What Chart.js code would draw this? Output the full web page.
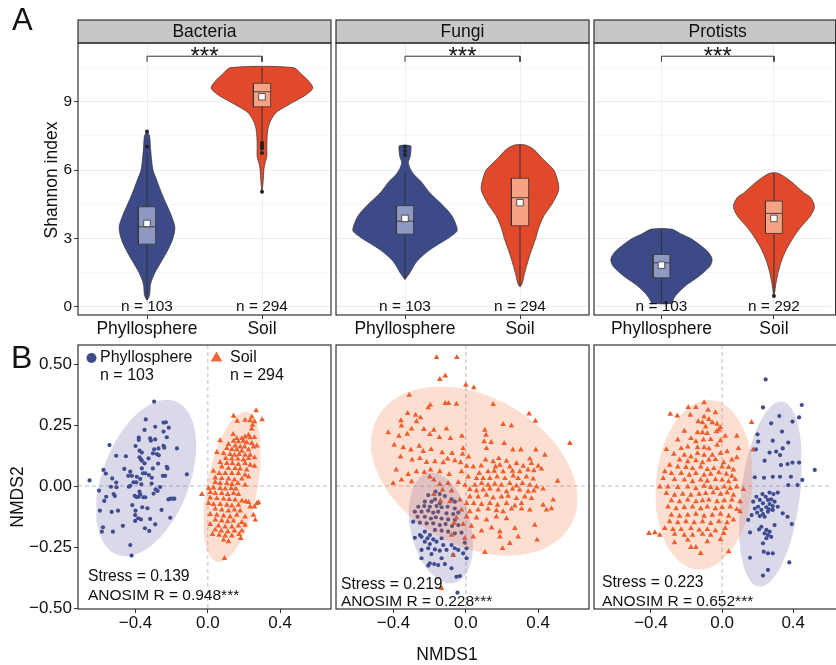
<!DOCTYPE html>
<html>
<head>
<meta charset="utf-8">
<script src="https://cdn.jsdelivr.net/npm/chart.js@4.4.1/dist/chart.umd.min.js"></script>
<style>
  body { margin: 0; background: #fff; }
  #wrap { position: relative; width: 836px; height: 665px; overflow: hidden; background: #fff; }
  #wrap canvas { position: absolute; left: 0; top: 0; }
</style>
</head>
<body>
<div id="wrap">
  <canvas id="a1" width="836" height="665"></canvas>
  <canvas id="a2" width="836" height="665"></canvas>
  <canvas id="a3" width="836" height="665"></canvas>
  <canvas id="b1" width="836" height="665"></canvas>
  <canvas id="b2" width="836" height="665"></canvas>
  <canvas id="b3" width="836" height="665"></canvas>
</div>
<script>
// ---- data ----
const groups = ["Phyllosphere", "Soil"];
const kingdoms = ["Bacteria", "Fungi", "Protists"];
const sampleN = [[103, 294], [103, 294], [103, 292]];
const shannonTicks = [0, 3, 6, 9];
const shannonMinor = [1.5, 4.5, 7.5, 10.5];
const nmdsXTicks = [-0.4, 0, 0.4];
const nmdsYTicks = [-0.5, -0.25, 0, 0.25, 0.5];
const stress = [0.139, 0.219, 0.223];
const anosimR = [0.948, 0.228, 0.652];

// violin outlines: Shannon levels and half widths (category units)
const bacPhylloY = [0.29, 0.5, 1, 1.5, 2, 2.5, 3, 3.5, 4, 4.5, 5, 5.5, 6, 6.5, 7, 7.5, 7.69];
const bacPhylloW = [0, 0.022, 0.031, 0.069, 0.126, 0.182, 0.225, 0.242, 0.212, 0.169, 0.126, 0.089, 0.052, 0.039, 0.030, 0.022, 0];
const bacSoilY = [5.0, 5.5, 6.0, 6.3, 6.6, 7.0, 7.5, 8.0, 8.5, 8.8, 9.0, 9.3, 9.6, 9.9, 10.2, 10.5];
const bacSoilW = [0, 0.010, 0.016, 0.026, 0.042, 0.042, 0.045, 0.061, 0.117, 0.208, 0.277, 0.381, 0.442, 0.407, 0.346, 0.27];
const funPhylloY = [1.2, 1.5, 2, 2.5, 3, 3.3, 3.5, 4, 4.5, 5, 5.5, 5.86, 6.3, 6.6, 6.9, 7.07];
const funPhylloW = [0, 0.043, 0.104, 0.216, 0.372, 0.45, 0.45, 0.407, 0.320, 0.216, 0.139, 0.069, 0.029, 0.045, 0.052, 0.048];
const funSoilY = [0.88, 1.0, 1.5, 2, 2.5, 3, 3.5, 4, 4.5, 5, 5.2, 5.5, 6, 6.5, 6.9, 7.1];
const funSoilW = [0, 0.017, 0.041, 0.069, 0.101, 0.136, 0.165, 0.208, 0.277, 0.329, 0.338, 0.329, 0.294, 0.197, 0.121, 0.048];
const proPhylloY = [0.15, 0.4, 0.7, 1.0, 1.2, 1.5, 1.8, 2.1, 2.4, 2.7, 3.0, 3.2, 3.41];
const proPhylloW = [0.087, 0.113, 0.165, 0.234, 0.294, 0.372, 0.433, 0.450, 0.416, 0.346, 0.260, 0.173, 0.087];
const proSoilY = [0.47, 0.6, 1, 1.5, 2, 2.5, 3, 3.5, 4, 4.4, 4.8, 5, 5.5, 5.86];
const proSoilW = [0, 0.006, 0.017, 0.037, 0.066, 0.109, 0.167, 0.239, 0.326, 0.36, 0.326, 0.268, 0.152, 0.039];

// box stats: lower whisker, Q1, median, Q3, upper whisker, mean
const bacPhylloBox = [0.3, 2.75, 3.51, 4.39, 6.8, 3.66];
const bacSoilBox = [7.3, 8.78, 9.44, 9.81, 10.5, 9.22];
const funPhylloBox = [1.2, 3.19, 3.76, 4.44, 5.93, 3.88];
const funSoilBox = [0.88, 3.56, 4.79, 5.64, 7.1, 4.57];
const proPhylloBox = [0.15, 1.27, 1.93, 2.30, 3.41, 1.83];
const proSoilBox = [0.6, 3.22, 4.10, 4.64, 5.86, 3.88];
const bacPhylloOut = [7.03, 7.69];
const bacSoilOut = [7.2, 7.1, 7.0, 6.95, 6.75, 5.05];
const funPhylloOut = [6.66, 6.84, 7.03];
const funSoilOut = [];
const proPhylloOut = [];
const proSoilOut = [0.47];
const bracketY = [10.76, 11.0];

// NMDS scores [NMDS1, NMDS2]
const bacPhylloPts = [[-0.297,0.346],[-0.343,0.273],[-0.245,0.260],[-0.232,0.261],[-0.291,0.243],[-0.216,0.239],[-0.350,0.230],[-0.245,0.223],[-0.382,0.198],[-0.382,0.189],[-0.319,0.195],[-0.315,0.186],[-0.291,0.191],[-0.227,0.200],[-0.544,0.168],[-0.400,0.164],[-0.245,0.165],[-0.241,0.157],[-0.273,0.154],[-0.297,0.150],[-0.171,0.154],[-0.378,0.145],[-0.365,0.137],[-0.304,0.134],[-0.282,0.131],[-0.271,0.126],[-0.507,0.124],[-0.453,0.122],[-0.378,0.118],[-0.370,0.109],[-0.365,0.104],[-0.328,0.113],[-0.350,0.093],[-0.275,0.092],[-0.227,0.079],[-0.223,0.072],[-0.304,0.072],[-0.577,0.066],[-0.462,0.070],[-0.429,0.059],[-0.365,0.072],[-0.564,0.051],[-0.440,0.042],[-0.420,0.042],[-0.359,0.052],[-0.346,0.052],[-0.326,0.045],[-0.310,0.034],[-0.249,0.042],[-0.236,0.042],[-0.116,0.048],[-0.529,0.031],[-0.393,0.038],[-0.374,0.029],[-0.654,0.023],[-0.507,0.014],[-0.411,0.015],[-0.396,0.015],[-0.429,0.001],[-0.368,0.007],[-0.311,0.010],[-0.536,-0.003],[-0.505,-0.005],[-0.437,-0.003],[-0.264,-0.004],[-0.602,-0.019],[-0.289,-0.014],[-0.278,-0.020],[-0.300,-0.031],[-0.521,-0.033],[-0.514,-0.041],[-0.562,-0.044],[-0.378,-0.023],[-0.374,-0.034],[-0.382,-0.044],[-0.404,-0.040],[-0.393,-0.046],[-0.356,-0.046],[-0.346,-0.046],[-0.573,-0.061],[-0.218,-0.055],[-0.208,-0.052],[-0.194,-0.052],[-0.185,-0.052],[-0.418,-0.078],[-0.363,-0.087],[-0.334,-0.091],[-0.597,-0.101],[-0.532,-0.106],[-0.497,-0.101],[-0.400,-0.101],[-0.256,-0.098],[-0.402,-0.119],[-0.385,-0.132],[-0.370,-0.137],[-0.319,-0.135],[-0.208,-0.130],[-0.402,-0.143],[-0.291,-0.157],[-0.470,-0.163],[-0.580,-0.169],[-0.586,-0.187],[-0.525,-0.187],[-0.348,-0.173],[-0.324,-0.184],[-0.429,-0.242],[-0.422,-0.285]];
const bacSoilPts = [[0.267,0.309],[0.142,0.287],[0.243,0.284],[0.206,0.270],[0.162,0.266],[0.234,0.268],[0.300,0.272],[0.258,0.264],[0.247,0.250],[0.243,0.234],[0.140,0.212],[0.225,0.209],[0.160,0.195],[0.188,0.195],[0.206,0.202],[0.234,0.198],[0.258,0.199],[0.068,0.186],[0.142,0.184],[0.169,0.182],[0.197,0.184],[0.215,0.178],[0.243,0.175],[0.271,0.165],[0.114,0.171],[0.151,0.165],[0.179,0.161],[0.203,0.161],[0.252,0.161],[0.105,0.154],[0.133,0.150],[0.160,0.148],[0.188,0.143],[0.225,0.148],[0.050,0.138],[0.087,0.134],[0.123,0.130],[0.147,0.127],[0.173,0.130],[0.206,0.127],[0.234,0.127],[0.099,0.113],[0.133,0.111],[0.166,0.111],[0.197,0.107],[0.225,0.113],[0.258,0.116],[0.068,0.097],[0.105,0.093],[0.136,0.093],[0.169,0.089],[0.206,0.093],[0.234,0.086],[0.258,0.082],[0.077,0.079],[0.114,0.072],[0.151,0.072],[0.179,0.070],[0.215,0.066],[0.031,0.061],[0.063,0.052],[0.096,0.052],[0.133,0.052],[0.169,0.052],[0.206,0.045],[0.225,0.038],[0.041,0.034],[0.077,0.031],[0.114,0.029],[0.147,0.025],[0.188,0.029],[0.041,0.015],[0.068,0.011],[0.105,0.011],[0.133,0.007],[0.166,0.011],[0.206,0.004],[0.004,-0.010],[0.031,-0.007],[0.068,-0.010],[0.096,-0.012],[0.129,-0.010],[0.155,-0.012],[-0.033,-0.034],[0.013,-0.026],[0.041,-0.030],[0.077,-0.030],[0.110,-0.034],[0.142,-0.030],[0.169,-0.034],[0.013,-0.048],[0.050,-0.051],[0.087,-0.053],[0.118,-0.055],[0.151,-0.057],[0.188,-0.061],[0.210,-0.064],[0.225,-0.067],[0.004,-0.071],[0.031,-0.075],[0.068,-0.075],[0.105,-0.078],[0.133,-0.081],[0.169,-0.078],[0.271,-0.071],[0.280,-0.068],[0.258,-0.085],[0.041,-0.094],[0.077,-0.098],[0.114,-0.102],[0.147,-0.098],[0.179,-0.102],[0.234,-0.085],[0.013,-0.116],[0.050,-0.119],[0.087,-0.122],[0.123,-0.126],[0.160,-0.119],[0.206,-0.126],[0.252,-0.119],[0.041,-0.139],[0.077,-0.143],[0.110,-0.146],[0.142,-0.143],[0.188,-0.149],[0.262,-0.139],[0.013,-0.157],[0.059,-0.163],[0.096,-0.167],[0.133,-0.167],[0.169,-0.163],[0.206,-0.160],[0.041,-0.180],[0.074,-0.184],[0.110,-0.187],[0.147,-0.184],[0.188,-0.184],[0.026,-0.198],[0.063,-0.201],[0.096,-0.204],[0.133,-0.204],[0.173,-0.198],[0.087,-0.221],[0.114,-0.228],[0.182,-0.214],[0.092,-0.296]];
const funPhylloPts = [[-0.168,-0.023],[-0.144,-0.033],[-0.208,-0.037],[-0.116,-0.041],[-0.171,-0.055],[-0.079,-0.055],[-0.227,-0.064],[-0.190,-0.064],[-0.144,-0.071],[-0.061,-0.064],[-0.263,-0.085],[-0.230,-0.082],[-0.199,-0.085],[-0.162,-0.082],[-0.134,-0.087],[-0.101,-0.085],[-0.061,-0.092],[-0.282,-0.105],[-0.245,-0.105],[-0.208,-0.101],[-0.180,-0.109],[-0.153,-0.105],[-0.107,-0.112],[-0.070,-0.115],[-0.042,-0.109],[-0.267,-0.126],[-0.227,-0.126],[-0.193,-0.133],[-0.166,-0.128],[-0.134,-0.133],[-0.098,-0.137],[-0.061,-0.139],[-0.291,-0.146],[-0.254,-0.150],[-0.217,-0.153],[-0.180,-0.153],[-0.144,-0.160],[-0.112,-0.156],[-0.076,-0.164],[-0.042,-0.160],[-0.171,-0.180],[-0.134,-0.183],[-0.098,-0.187],[-0.061,-0.194],[-0.024,-0.191],[-0.227,-0.187],[-0.254,-0.201],[-0.199,-0.201],[-0.282,-0.212],[-0.245,-0.208],[-0.212,-0.214],[-0.180,-0.219],[-0.134,-0.214],[-0.162,-0.228],[-0.199,-0.238],[-0.227,-0.228],[-0.125,-0.242],[-0.079,-0.242],[-0.061,-0.255],[-0.042,-0.262],[-0.006,-0.232],[0.004,-0.255],[-0.208,-0.255],[-0.171,-0.260],[-0.144,-0.265],[-0.107,-0.262],[-0.245,-0.262],[-0.015,-0.276],[-0.070,-0.283],[-0.190,-0.279],[-0.245,-0.296],[-0.134,-0.296],[0.004,-0.296],[-0.199,-0.317],[-0.175,-0.320],[-0.153,-0.324],[-0.079,-0.337],[-0.116,-0.320],[-0.052,-0.372],[-0.033,-0.369],[-0.046,-0.437],[-0.208,-0.326]];
const funSoilPts = [[-0.162,0.527],[-0.050,0.527],[-0.144,0.437],[-0.114,0.452],[0.000,0.414],[0.044,0.403],[-0.313,0.373],[-0.114,0.339],[-0.096,0.339],[-0.052,0.336],[-0.197,0.332],[-0.208,0.321],[0.151,0.335],[-0.322,0.298],[-0.278,0.291],[-0.251,0.280],[-0.359,0.268],[-0.356,0.247],[-0.273,0.264],[0.350,0.296],[0.385,0.266],[-0.300,0.234],[-0.232,0.232],[-0.177,0.229],[-0.107,0.234],[-0.429,0.219],[-0.370,0.205],[-0.324,0.213],[-0.199,0.212],[-0.146,0.199],[-0.085,0.195],[-0.022,0.205],[0.112,0.209],[0.212,0.175],[0.575,0.175],[0.252,0.247],[0.206,0.253],[0.105,0.229],[-0.396,0.168],[-0.346,0.158],[-0.304,0.148],[-0.258,0.164],[-0.236,0.142],[-0.192,0.150],[-0.131,0.137],[-0.076,0.134],[-0.015,0.154],[-0.018,0.131],[0.015,0.120],[0.101,0.182],[0.114,0.154],[0.140,0.179],[0.260,0.148],[0.304,0.148],[0.387,0.148],[0.437,0.127],[0.354,0.111],[0.182,0.113],[0.225,0.102],[0.151,0.100],[0.109,0.107],[-0.361,0.120],[-0.297,0.107],[-0.254,0.113],[-0.217,0.097],[-0.171,0.100],[-0.125,0.096],[-0.101,0.111],[-0.061,0.104],[-0.029,0.096],[0.041,0.079],[0.085,0.083],[0.164,0.079],[0.188,0.086],[0.243,0.079],[0.280,0.093],[0.317,0.082],[0.363,0.093],[0.400,0.082],[0.004,0.082],[-0.385,0.066],[-0.319,0.048],[-0.273,0.059],[-0.230,0.056],[-0.195,0.066],[-0.144,0.059],[-0.092,0.048],[-0.024,0.059],[0.123,0.059],[0.157,0.061],[0.206,0.059],[0.258,0.061],[0.298,0.059],[0.344,0.066],[0.376,0.063],[0.418,0.070],[0.074,0.052],[-0.356,0.025],[-0.300,0.018],[-0.402,0.011],[-0.199,0.038],[-0.177,0.025],[0.013,0.038],[0.059,0.031],[0.096,0.031],[0.133,0.031],[0.173,0.038],[0.216,0.031],[0.262,0.042],[0.289,0.031],[0.335,0.038],[0.372,0.029],[0.507,0.020],[-0.144,0.007],[-0.098,0.011],[-0.042,0.015],[-0.004,0.004],[0.050,0.004],[0.087,0.011],[0.123,0.004],[0.160,0.008],[0.197,0.004],[0.243,0.011],[0.280,0.001],[0.313,0.011],[0.354,0.004],[0.391,-0.003],[-0.129,-0.016],[-0.079,-0.020],[0.022,-0.014],[0.059,-0.020],[0.096,-0.016],[0.133,-0.012],[0.179,-0.016],[0.225,-0.023],[0.258,-0.012],[0.298,-0.016],[0.344,-0.023],[0.427,-0.012],[0.376,-0.020],[-0.177,-0.034],[0.022,-0.044],[0.068,-0.044],[0.114,-0.037],[0.151,-0.048],[0.197,-0.044],[0.234,-0.041],[0.280,-0.051],[0.326,-0.044],[0.363,-0.051],[0.483,-0.057],[-0.140,-0.061],[-0.088,-0.064],[-0.033,-0.057],[0.004,-0.071],[0.044,-0.071],[0.087,-0.075],[0.133,-0.071],[0.175,-0.078],[0.225,-0.071],[0.271,-0.081],[0.308,-0.071],[-0.024,-0.098],[0.022,-0.105],[0.068,-0.098],[0.123,-0.094],[0.169,-0.101],[0.206,-0.105],[0.252,-0.094],[0.308,-0.094],[0.354,-0.098],[-0.052,-0.130],[0.004,-0.126],[0.059,-0.130],[0.114,-0.139],[0.169,-0.126],[0.225,-0.133],[0.427,-0.078],[0.446,-0.098],[0.473,-0.092],[-0.066,-0.153],[-0.015,-0.157],[0.031,-0.164],[0.087,-0.184],[0.142,-0.171],[0.188,-0.187],[0.271,-0.173],[0.381,-0.160],[-0.006,-0.214],[-0.079,-0.201],[0.041,-0.208],[0.188,-0.208],[0.289,-0.208],[0.394,-0.221],[0.243,-0.235],[0.203,-0.255],[0.105,-0.272],[-0.070,-0.283],[-0.134,-0.419]];
const proPhylloPts = [[0.245,0.437],[0.230,0.322],[0.448,0.332],[0.322,0.287],[0.433,0.281],[0.396,0.264],[0.276,0.257],[0.337,0.223],[0.199,0.212],[0.285,0.186],[0.372,0.178],[0.203,0.182],[0.341,0.154],[0.304,0.141],[0.267,0.137],[0.239,0.104],[0.326,0.127],[0.190,0.150],[0.396,0.096],[0.433,0.096],[0.331,0.086],[0.368,0.090],[0.521,0.066],[0.236,0.034],[0.285,0.038],[0.326,0.038],[0.387,0.038],[0.184,0.036],[0.451,0.025],[0.424,0.004],[0.372,0.004],[0.267,-0.027],[0.289,-0.033],[0.313,-0.027],[0.227,-0.033],[0.245,-0.044],[0.193,-0.044],[0.175,-0.064],[0.212,-0.057],[0.258,-0.057],[0.276,-0.055],[0.295,-0.064],[0.230,-0.071],[0.267,-0.074],[0.285,-0.082],[0.203,-0.085],[0.249,-0.087],[0.184,-0.092],[0.221,-0.098],[0.263,-0.096],[0.197,-0.109],[0.230,-0.115],[0.258,-0.105],[0.285,-0.098],[0.166,-0.119],[0.212,-0.123],[0.239,-0.126],[0.147,-0.139],[0.341,-0.112],[0.368,-0.126],[0.392,-0.156],[0.221,-0.167],[0.249,-0.180],[0.267,-0.187],[0.239,-0.194],[0.258,-0.201],[0.276,-0.208],[0.157,-0.190],[0.208,-0.178],[0.249,-0.214],[0.230,-0.235],[0.234,-0.269],[0.258,-0.276],[0.285,-0.276],[0.157,-0.294],[0.378,-0.313],[0.258,-0.344],[0.230,-0.367],[0.295,-0.160],[0.313,-0.085]];
const proSoilPts = [[-0.101,0.342],[-0.190,0.322],[-0.291,0.295],[-0.252,0.288],[-0.147,0.322],[-0.079,0.311],[-0.037,0.301],[-0.179,0.291],[-0.101,0.284],[-0.074,0.273],[-0.134,0.264],[-0.110,0.260],[-0.055,0.260],[-0.028,0.254],[-0.092,0.243],[-0.009,0.240],[-0.212,0.225],[-0.138,0.219],[-0.110,0.219],[-0.083,0.216],[-0.031,0.223],[-0.018,0.230],[0.083,0.205],[0.018,0.205],[-0.175,0.195],[-0.105,0.189],[-0.064,0.191],[-0.249,0.189],[-0.147,0.182],[-0.009,0.186],[-0.313,0.150],[-0.230,0.154],[-0.193,0.161],[-0.138,0.158],[-0.101,0.158],[-0.074,0.153],[-0.028,0.168],[0.092,0.154],[0.175,0.148],[0.166,0.261],[0.083,0.117],[-0.271,0.131],[-0.212,0.127],[-0.175,0.120],[-0.138,0.134],[-0.101,0.127],[-0.055,0.127],[-0.009,0.134],[0.028,0.141],[-0.239,0.107],[-0.193,0.100],[-0.147,0.104],[-0.110,0.096],[-0.074,0.107],[-0.037,0.109],[0.009,0.096],[0.055,0.107],[-0.295,0.086],[-0.249,0.079],[-0.203,0.077],[-0.166,0.072],[-0.120,0.079],[-0.083,0.068],[-0.046,0.072],[0.000,0.079],[0.037,0.077],[0.064,0.066],[-0.322,0.059],[-0.285,0.052],[-0.230,0.052],[-0.184,0.045],[-0.147,0.052],[-0.101,0.045],[-0.064,0.049],[-0.018,0.055],[0.024,0.049],[0.055,0.041],[-0.331,0.031],[-0.267,0.027],[-0.212,0.025],[-0.166,0.018],[-0.120,0.025],[-0.083,0.020],[-0.037,0.027],[0.000,0.025],[0.037,0.018],[0.074,0.027],[-0.350,-0.003],[-0.304,-0.003],[-0.249,-0.005],[-0.193,-0.003],[-0.147,-0.010],[-0.101,0.000],[-0.064,-0.005],[-0.028,-0.010],[0.013,-0.003],[0.046,-0.010],[0.083,-0.003],[0.120,-0.014],[-0.313,-0.030],[-0.267,-0.037],[-0.221,-0.033],[-0.175,-0.037],[-0.129,-0.033],[-0.092,-0.030],[-0.050,-0.027],[-0.009,-0.033],[0.028,-0.027],[0.064,-0.037],[-0.285,-0.060],[-0.239,-0.064],[-0.193,-0.057],[-0.147,-0.064],[-0.110,-0.060],[-0.074,-0.057],[-0.028,-0.064],[0.013,-0.060],[0.055,-0.057],[0.101,-0.064],[-0.304,-0.085],[-0.258,-0.092],[-0.212,-0.087],[-0.166,-0.085],[-0.120,-0.092],[-0.083,-0.085],[-0.037,-0.092],[0.000,-0.087],[0.046,-0.085],[0.083,-0.096],[0.101,-0.105],[-0.285,-0.119],[-0.239,-0.123],[-0.193,-0.119],[-0.147,-0.115],[-0.101,-0.123],[-0.055,-0.119],[-0.009,-0.115],[0.037,-0.123],[-0.295,-0.146],[-0.249,-0.150],[-0.203,-0.146],[-0.157,-0.150],[-0.110,-0.146],[-0.064,-0.153],[-0.018,-0.146],[0.028,-0.150],[0.064,-0.139],[-0.322,-0.173],[-0.276,-0.178],[-0.230,-0.178],[-0.175,-0.173],[-0.129,-0.180],[-0.083,-0.178],[-0.037,-0.183],[0.018,-0.173],[-0.411,-0.194],[-0.378,-0.191],[-0.350,-0.201],[-0.267,-0.197],[-0.212,-0.201],[-0.166,-0.201],[-0.110,-0.197],[-0.064,-0.201],[0.009,-0.194],[-0.193,-0.221],[-0.083,-0.228],[-0.009,-0.219],[-0.147,-0.251],[-0.175,-0.251],[-0.120,-0.276],[0.037,-0.269],[-0.267,-0.232]];

// 95% ellipses: centre, first and second half axis (NMDS units)
const bacPhylloEll = [-0.341, 0.033, 0.162, 0.314, 0.224, -0.064];
const bacSoilEll = [0.134, -0.004, 0.081, 0.307, 0.137, -0.020];
const funPhylloEll = [-0.138, -0.172, -0.073, 0.225, 0.162, 0.029];
const funSoilEll = [0.046, 0.061, 0.534, -0.222, -0.201, -0.266];
const proPhylloEll = [0.272, -0.033, 0.066, 0.379, 0.164, -0.016];
const proSoilEll = [-0.101, 0.005, 0.041, 0.347, 0.270, -0.018];

// ---- style ----
const FONT = '"Liberation Sans", Arial, Helvetica, sans-serif';
const NAVY = "#3c4b87";
const RED = "#e2492b";
const NAVY_BOX = "#8e98c1";
const RED_BOX = "#f8a284";
const PT_NAVY = "#3d4b8c";
const PT_RED = "#ef5a2b";
const INK = "#111111";

Chart.defaults.font.family = FONT;
Chart.defaults.color = INK;

const deco = {
  id: "deco",
  beforeDatasetsDraw(chart, args, opts) {
    if (!opts.zeroLines) return;
    const { ctx, chartArea: a, scales } = chart;
    const x0 = scales.x.getPixelForValue(0);
    const y0 = scales.y.getPixelForValue(0);
    ctx.save();
    ctx.strokeStyle = "#bdbdbd";
    ctx.lineWidth = 1;
    ctx.setLineDash([4, 3]);
    ctx.beginPath();
    ctx.moveTo(x0, a.top); ctx.lineTo(x0, a.bottom);
    ctx.moveTo(a.left, y0); ctx.lineTo(a.right, y0);
    ctx.stroke();
    ctx.restore();
  },
  afterDatasetsDraw(chart, args, opts) {
    const { ctx, chartArea: a, scales } = chart;
    const extra = opts.openRight ? 5 : 0;
    ctx.save();
    ctx.strokeStyle = "#333";
    ctx.lineWidth = 1.2;
    if (opts.strip) {
      const h = 23;
      ctx.fillStyle = "#c9c6c6";
      ctx.fillRect(a.left, a.top - h, a.right - a.left + extra, h);
      ctx.strokeRect(a.left, a.top - h, a.right - a.left + extra, h);
      ctx.fillStyle = INK;
      ctx.font = "17.5px " + FONT;
      ctx.textAlign = "center";
      ctx.textBaseline = "middle";
      ctx.fillText(opts.strip, scales.x.getPixelForValue(1.5), a.top - h / 2 + 1);
    }
    // panel border
    ctx.strokeRect(a.left, a.top, a.right - a.left + extra, a.bottom - a.top);
    // texts placed on data values
    (opts.dataText || []).forEach(t => {
      ctx.fillStyle = INK;
      ctx.font = t.size + "px " + FONT;
      ctx.textAlign = t.align || "center";
      ctx.textBaseline = t.base || "middle";
      ctx.fillText(t.text, scales.x.getPixelForValue(t.x), scales.y.getPixelForValue(t.y));
    });
    // texts placed on the page
    (opts.pageText || []).forEach(t => {
      ctx.save();
      ctx.fillStyle = INK;
      ctx.font = t.size + "px " + FONT;
      ctx.textAlign = t.align || "center";
      ctx.textBaseline = "middle";
      ctx.translate(t.x, t.y);
      if (t.rot) ctx.rotate(-Math.PI / 2);
      ctx.fillText(t.text, 0, 0);
      ctx.restore();
    });
    if (opts.legend) {
      ctx.fillStyle = PT_NAVY;
      ctx.beginPath(); ctx.arc(91.5, 358, 5, 0, Math.PI * 2); ctx.fill();
      ctx.fillStyle = "#f0643a";
      ctx.beginPath();
      ctx.moveTo(216.5, 351.5); ctx.lineTo(222.3, 361.5); ctx.lineTo(210.7, 361.5);
      ctx.closePath(); ctx.fill();
    }
    ctx.restore();
  }
};

function violinPolygon(c, ys, ws) {
  const left = ys.map((y, i) => ({ x: c - ws[i], y }));
  const right = ys.map((y, i) => ({ x: c + ws[i], y })).reverse();
  const pts = left.concat(right);
  pts.push(pts[0]);
  return pts;
}

function violinSets(vy, vw, boxes, outs) {
  const sets = [];
  const bw = 0.075;
  [0, 1].forEach(g => {
    const c = g + 1;
    const b = boxes[g];
    sets.push({ data: violinPolygon(c, vy[g], vw[g]), showLine: true, fill: "shape",
      backgroundColor: g ? RED : NAVY, borderColor: "#333", borderWidth: 0.7, tension: 0.3, pointRadius: 0, order: 10 });
    sets.push({ data: [{ x: c, y: b[0] }, { x: c, y: b[4] }], showLine: true,
      borderColor: "#333", borderWidth: 1, pointRadius: 0, order: 9 });
    sets.push({ data: [{ x: c - bw, y: b[1] }, { x: c + bw, y: b[1] }, { x: c + bw, y: b[3] }, { x: c - bw, y: b[3] }, { x: c - bw, y: b[1] }],
      showLine: true, fill: "shape", backgroundColor: g ? RED_BOX : NAVY_BOX, borderColor: "#333", borderWidth: 0.8, pointRadius: 0, order: 8 });
    sets.push({ data: [{ x: c - bw, y: b[2] }, { x: c + bw, y: b[2] }], showLine: true,
      borderColor: "#333", borderWidth: 0.9, pointRadius: 0, order: 7 });
    sets.push({ data: outs[g].map(y => ({ x: c, y })), pointRadius: 2, backgroundColor: "#222", borderWidth: 0, order: 6 });
    sets.push({ data: [{ x: c, y: b[5] }], pointStyle: "rect", pointRadius: 4.6,
      backgroundColor: "#fff", borderColor: "#333", borderWidth: 0.8, order: 5 });
  });
  sets.push({ data: [{ x: 1, y: bracketY[0] }, { x: 1, y: bracketY[1] }, { x: 2, y: bracketY[1] }, { x: 2, y: bracketY[0] }],
    showLine: true, borderColor: "#333", borderWidth: 1, pointRadius: 0, order: 4 });
  return sets;
}

function ellipsePoints(e) {
  const pts = [];
  for (let i = 0; i <= 90; i++) {
    const t = (i / 90) * Math.PI * 2;
    pts.push({ x: e[0] + Math.cos(t) * e[2] + Math.sin(t) * e[4], y: e[1] + Math.cos(t) * e[3] + Math.sin(t) * e[5] });
  }
  return pts;
}

function nmdsSets(phyllo, soil, ellP, ellS) {
  return [
    { data: ellipsePoints(ellS), showLine: true, fill: "shape", backgroundColor: "rgba(245,110,50,0.22)", borderWidth: 0, pointRadius: 0, order: 1 },
    { data: ellipsePoints(ellP), showLine: true, fill: "shape", backgroundColor: "rgba(80,80,160,0.22)", borderWidth: 0, pointRadius: 0, order: 2 },
    { data: soil.map(p => ({ x: p[0], y: p[1] })), pointStyle: "triangle", pointRadius: 3.3, backgroundColor: PT_RED, borderColor: PT_RED, borderWidth: 0, order: 3 },
    { data: phyllo.map(p => ({ x: p[0], y: p[1] })), pointStyle: "circle", pointRadius: 2.1, backgroundColor: PT_NAVY, borderColor: PT_NAVY, borderWidth: 0, order: 4 }
  ];
}

const fmtX = v => (v < 0 ? "\u2212" : "") + Math.abs(v).toFixed(1);
const fmtY = v => (v < 0 ? "\u2212" : "") + Math.abs(v).toFixed(2);

function makeViolin(id, k, left, right, xMax, first, vy, vw, boxes, outs, pageText) {
  new Chart(document.getElementById(id), {
    type: "scatter",
    data: { datasets: violinSets(vy, vw, boxes, outs) },
    options: {
      responsive: false, animation: false, events: [],
      layout: { padding: { left: left, right: 836 - right, top: 43, bottom: 325 } },
      plugins: {
        legend: { display: false }, tooltip: { enabled: false },
        deco: {
          strip: kingdoms[k], openRight: k === 2, pageText: pageText,
          dataText: [
            { text: "n = " + sampleN[k][0], x: 1, y: 0, size: 15.4 },
            { text: "n = " + sampleN[k][1], x: 2, y: 0, size: 15.4 },
            { text: "***", x: 1.5, y: 10.64, size: 24, base: "alphabetic" }
          ]
        }
      },
      scales: {
        x: {
          type: "linear", min: 0.4, max: xMax,
          afterBuildTicks: s => { s.ticks = [{ value: 1 }, { value: 2 }]; },
          afterFit: s => { s.height = 25; },
          ticks: { callback: v => groups[Math.round(v) - 1], font: { size: 17.5 }, color: INK, padding: 0, maxRotation: 0, autoSkip: false },
          grid: { color: "#ededed", tickColor: "#333", tickLength: 4, lineWidth: 1 },
          border: { display: false }
        },
        y: {
          min: -0.36, max: 11.58,
          afterBuildTicks: s => { s.ticks = shannonTicks.concat(shannonMinor).sort((a, b) => a - b).map(v => ({ value: v })); },
          afterFit: s => { s.width = first ? 78 : 0; },
          ticks: { display: first, callback: v => (shannonTicks.includes(v) ? String(v) : ""), font: { size: 15.4 }, color: INK, padding: 2, autoSkip: false },
          grid: {
            color: c => (c.tick && shannonTicks.includes(c.tick.value) ? "#ebebeb" : "#f6f6f6"),
            tickColor: c => (c.tick && shannonTicks.includes(c.tick.value) ? "#333" : "rgba(0,0,0,0)"),
            drawTicks: first, tickLength: 4, lineWidth: 1
          },
          border: { display: false }
        }
      }
    },
    plugins: [deco]
  });
}

function makeNmds(id, k, left, right, xMin, xMax, first, phyllo, soil, ellP, ellS, pageText, legend) {
  new Chart(document.getElementById(id), {
    type: "scatter",
    data: { datasets: nmdsSets(phyllo, soil, ellP, ellS) },
    options: {
      responsive: false, animation: false, events: [],
      layout: { padding: { left: left, right: 836 - right, top: 345, bottom: 25 } },
      plugins: {
        legend: { display: false }, tooltip: { enabled: false },
        deco: { zeroLines: true, openRight: k === 2, pageText: pageText, legend: legend }
      },
      scales: {
        x: {
          type: "linear", min: xMin, max: xMax,
          afterBuildTicks: s => { s.ticks = nmdsXTicks.map(v => ({ value: v })); },
          afterFit: s => { s.height = 31; },
          ticks: { callback: v => fmtX(v), font: { size: 17 }, color: INK, padding: 0, maxRotation: 0, autoSkip: false },
          grid: { drawOnChartArea: false, tickColor: "#333", tickLength: 4 },
          border: { display: false }
        },
        y: {
          display: first,
          min: -0.504, max: 0.578,
          afterBuildTicks: s => { s.ticks = nmdsYTicks.map(v => ({ value: v })); },
          afterFit: s => { s.width = first ? 78 : 0; },
          ticks: { callback: v => fmtY(v), font: { size: 17 }, color: INK, padding: 2, autoSkip: false },
          grid: { drawOnChartArea: false, tickColor: "#333", tickLength: 4 },
          border: { display: false }
        }
      }
    },
    plugins: [deco]
  });
}

const statText = (k, x, y1, y2) => [
  { text: "Stress = " + stress[k].toFixed(3), x: x, y: y1, size: 15.7, align: "left" },
  { text: "ANOSIM R = " + anosimR[k].toFixed(3) + "***", x: x, y: y2, size: 15.5, align: "left" }
];

makeViolin("a1", 0, 0, 331, 2.6, true,
  [bacPhylloY, bacSoilY], [bacPhylloW, bacSoilW], [bacPhylloBox, bacSoilBox], [bacPhylloOut, bacSoilOut],
  [{ text: "A", x: 12, y: 21, size: 31, align: "left" }, { text: "Shannon index", x: 52, y: 180, size: 17.5, rot: true }]);
makeViolin("a2", 1, 336, 589, 2.6, false,
  [funPhylloY, funSoilY], [funPhylloW, funSoilW], [funPhylloBox, funSoilBox], [funPhylloOut, funSoilOut], []);
makeViolin("a3", 2, 594, 836, 2.504, false,
  [proPhylloY, proSoilY], [proPhylloW, proSoilW], [proPhylloBox, proSoilBox], [proPhylloOut, proSoilOut], []);

makeNmds("b1", 0, 0, 331, -0.718, 0.681, true, bacPhylloPts, bacSoilPts, bacPhylloEll, bacSoilEll,
  [{ text: "B", x: 11, y: 359, size: 32, align: "left" },
   { text: "NMDS2", x: 18, y: 497, size: 17.5, rot: true },
   { text: "NMDS1", x: 447, y: 655, size: 17.5 },
   { text: groups[0], x: 100, y: 358, size: 16, align: "left" },
   { text: "n = " + sampleN[0][0], x: 100, y: 376, size: 16, align: "left" },
   { text: groups[1], x: 230, y: 358, size: 16, align: "left" },
   { text: "n = " + sampleN[0][1], x: 230, y: 376, size: 16, align: "left" }
  ].concat(statText(0, 88, 577, 596)), true);
makeNmds("b2", 1, 336, 589, -0.718, 0.681, false, funPhylloPts, funSoilPts, funPhylloEll, funSoilEll,
  statText(1, 341, 585, 602), false);
makeNmds("b3", 2, 594, 836, -0.72, 0.618, false, proPhylloPts, proSoilPts, proPhylloEll, proSoilEll,
  statText(2, 602, 583, 602), false);
</script>
</body>
</html>
